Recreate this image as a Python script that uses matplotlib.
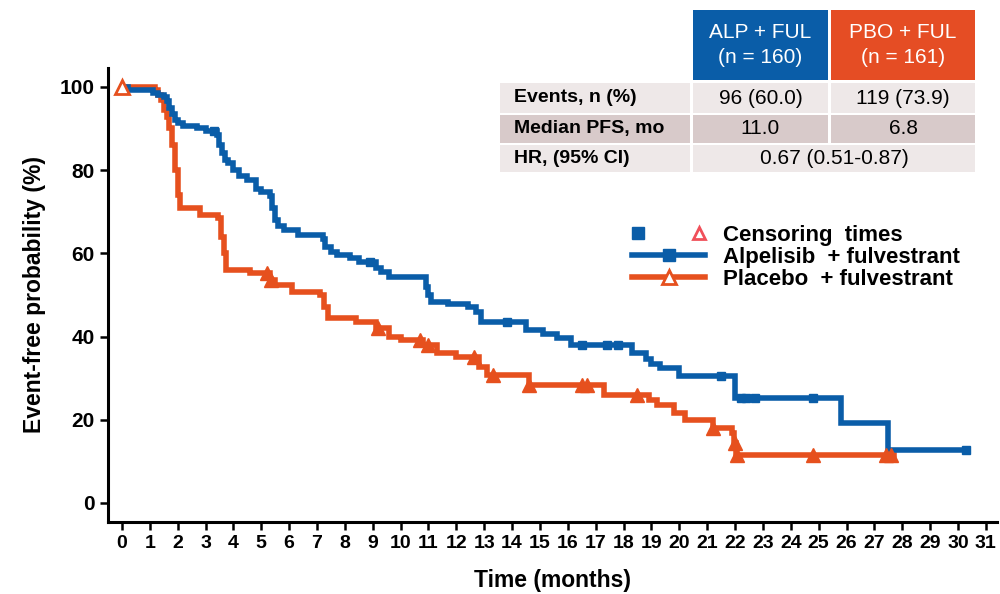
import numpy as np
import matplotlib.pyplot as plt
from matplotlib.lines import Line2D
from matplotlib.patches import Rectangle
from matplotlib.legend_handler import HandlerTuple

plt.rcParams['font.family'] = ['Liberation Sans', 'DejaVu Sans']

BLUE = "#0A5DA8"
ORANGE = "#E6501E"
CENS = "#F0505A"

# Alpelisib + fulvestrant: drop times (months) and event-free % after each drop
alp_t = [0.2, 1.1, 1.3, 1.5, 1.6, 1.7, 1.8, 1.9, 2.0, 2.2, 2.7, 3.0, 3.4, 3.5, 3.6, 3.7,
         3.8, 4.0, 4.2, 4.5, 4.8, 5.0, 5.3, 5.4, 5.5, 5.6, 5.8, 6.3, 7.2, 7.3, 7.5, 7.7,
         8.2, 8.5, 9.1, 9.3, 9.6, 10.9, 11.0, 11.1, 11.7, 12.4, 12.7, 12.9, 14.5, 15.1,
         15.6, 16.1, 18.3, 18.8, 19.0, 19.3, 20.0, 22.0, 25.8, 27.5]
alp_s = [99.3, 98.6, 98.0, 97.5, 96.5, 95.0, 93.5, 92.0, 91.2, 90.6, 90.0, 89.4, 88.5,
         86.0, 84.0, 82.5, 81.6, 80.0, 78.5, 77.5, 75.5, 74.8, 73.8, 71.0, 68.0, 66.5,
         65.5, 64.5, 63.5, 61.5, 60.3, 59.5, 58.8, 58.0, 56.5, 55.5, 54.3, 52.0, 50.0,
         48.3, 47.8, 47.0, 46.0, 43.5, 41.5, 40.5, 39.7, 38.0, 36.0, 34.5, 33.5, 32.5,
         30.5, 25.3, 19.2, 12.8]
alp_end = 30.3
alp_cens = [3.3, 8.9, 13.8, 16.5, 17.4, 17.8, 21.5, 22.2, 22.4, 22.7, 24.8, 30.3]

# Placebo + fulvestrant
pbo_t = [1.2, 1.3, 1.4, 1.5, 1.6, 1.7, 1.8, 1.9, 2.0, 2.1, 2.8, 3.45, 3.55, 3.65, 3.75,
         4.6, 5.3, 5.5, 6.1, 7.1, 7.25, 7.4, 8.4, 9.1, 9.6, 10.0, 10.8, 11.3, 12.0, 12.8,
         13.1, 14.6, 17.3, 18.9, 19.2, 19.8, 20.2, 21.2, 21.9, 21.98, 22.05]
pbo_s = [99.3, 98.0, 96.9, 94.5, 92.8, 90.0, 86.0, 80.0, 74.0, 70.9, 69.2, 68.5, 64.0,
         60.0, 56.0, 55.3, 53.5, 52.3, 50.7, 50.0, 47.0, 44.5, 43.5, 42.0, 39.9, 39.2,
         38.0, 36.0, 35.1, 32.7, 30.8, 28.4, 26.0, 24.8, 23.6, 21.6, 20.0, 18.0, 16.8,
         14.4, 11.5]
pbo_end = 27.7
pbo_cens = [5.2, 5.35, 9.2, 10.7, 11.0, 12.65, 13.3, 14.6, 16.5, 16.7, 18.5, 21.2,
            22.0, 22.08, 24.8, 27.4, 27.6]

# summary table
table_cols = ["ALP + FUL\n(n = 160)", "PBO + FUL\n(n = 161)"]
table_rows = ["Events, n (%)", "Median PFS, mo", "HR, (95% CI)"]
table_vals = [["96 (60.0)", "119 (73.9)"], ["11.0", "6.8"], ["0.67 (0.51-0.87)"]]

x_ticks = list(range(0, 32))
y_ticks = [0, 20, 40, 60, 80, 100]


def curve(times, vals, end):
    x = np.array([0.0] + times + [end])
    y = np.array([100.0] + vals + [vals[-1]])
    return x, y


def surv_at(tc, x, y):
    idx = np.searchsorted(x, tc, side='right') - 1
    return y[idx]


fig = plt.figure(figsize=(10, 5.94), dpi=100)
ax = fig.add_axes([0.108, 0.121, 0.889, 0.765])

ax_x, ax_y = curve(alp_t, alp_s, alp_end)
px, py = curve(pbo_t, pbo_s, pbo_end)

ax.step(px, py, where='post', color=ORANGE, lw=4.0, solid_joinstyle='miter', zorder=2)
ax.step(ax_x, ax_y, where='post', color=BLUE, lw=4.0, solid_joinstyle='miter', zorder=3)

ac = np.array(alp_cens)
ax.plot(ac, surv_at(ac, ax_x, ax_y), ls='none', marker='s', ms=5.5, color=BLUE, zorder=4)
pc = np.array(pbo_cens)
ax.plot(pc, surv_at(pc, px, py), ls='none', marker='^', ms=10, color=ORANGE, zorder=4)
ax.plot([0], [100], ls='none', marker='^', ms=10, mfc='white', mec=ORANGE, mew=2, zorder=5)

ax.set_xlim(-0.5, 31.4)
ax.set_ylim(-4.6, 104.6)
ax.set_xticks(x_ticks)
ax.set_yticks(y_ticks)
ax.spines['top'].set_visible(False)
ax.spines['right'].set_visible(False)
for s in ['left', 'bottom']:
    ax.spines[s].set_linewidth(2.2)
ax.tick_params(axis='both', direction='out', width=1.8, length=6, color='black')
for lab in ax.get_xticklabels():
    lab.set_fontweight('bold')
    lab.set_fontsize(14)
for lab in ax.get_yticklabels():
    lab.set_fontweight('bold')
    lab.set_fontsize(15)
ax.set_xlabel("Time (months)", fontsize=16.5, fontweight='bold', labelpad=12)
ax.set_ylabel("Event-free probability (%)", fontsize=16.5, fontweight='bold', labelpad=10)

# legend
h_sq = Line2D([], [], ls='none', marker='s', ms=8, color=BLUE)
h_tri = Line2D([], [], ls='none', marker='^', ms=9, mfc='white', mec=CENS, mew=2)
h_alp = Line2D([], [], color=BLUE, lw=4, marker='s', ms=8)
h_pbo = Line2D([], [], color=ORANGE, lw=4, marker='^', ms=10, mfc='white', mec=ORANGE, mew=2)
fig.legend([(h_sq, h_tri), h_alp, h_pbo],
           ["Censoring  times", "Alpelisib  + fulvestrant", "Placebo  + fulvestrant"],
           handler_map={tuple: HandlerTuple(ndivide=None, pad=2.2)},
           loc='upper left', bbox_to_anchor=(0.612, 0.655), frameon=False,
           handlelength=3.3, handletextpad=0.8, labelspacing=0.05,
           prop={'family': 'Liberation Sans', 'weight': 'bold', 'size': 16})

# table (figure pixels -> fractions)
W, H = 1000.0, 594.0
col_x = [(500, 690), (693, 828), (831, 975)]
head_y = (10, 80)
row_y = [(83, 113), (115, 143), (145, 172)]
row_bg = ["#EEE8E8", "#D8CACA", "#EEE8E8"]
head_bg = [BLUE, "#E54D24"]


def box(x0, x1, y0, y1, color):
    fig.patches.append(Rectangle((x0 / W, 1 - y1 / H), (x1 - x0) / W, (y1 - y0) / H,
                                 transform=fig.transFigure, color=color, lw=0, zorder=0))


def cell_text(x0, x1, y0, y1, s, **kw):
    fig.text((x0 + x1) / 2 / W, 1 - (y0 + y1) / 2 / H, s, ha='center', va='center', **kw)


for j, name in enumerate(table_cols):
    x0, x1 = col_x[j + 1]
    box(x0, x1, head_y[0], head_y[1], head_bg[j])
    cell_text(x0, x1, head_y[0], head_y[1], name, color='white', fontsize=15,
              linespacing=1.4)

for i, name in enumerate(table_rows):
    y0, y1 = row_y[i]
    box(col_x[0][0], col_x[0][1], y0, y1, row_bg[i])
    fig.text((col_x[0][0] + 14) / W, 1 - (y0 + y1) / 2 / H, name, ha='left', va='center',
             fontweight='bold', fontsize=14)
    vals = table_vals[i]
    if len(vals) == 1:
        box(col_x[1][0], col_x[2][1], y0, y1, row_bg[i])
        cell_text(col_x[1][0], col_x[2][1], y0, y1, vals[0], fontsize=15)
    else:
        for j, v in enumerate(vals):
            x0, x1 = col_x[j + 1]
            box(x0, x1, y0, y1, row_bg[i])
            cell_text(x0, x1, y0, y1, v, fontsize=15)

fig.savefig("out.png", dpi=100)
